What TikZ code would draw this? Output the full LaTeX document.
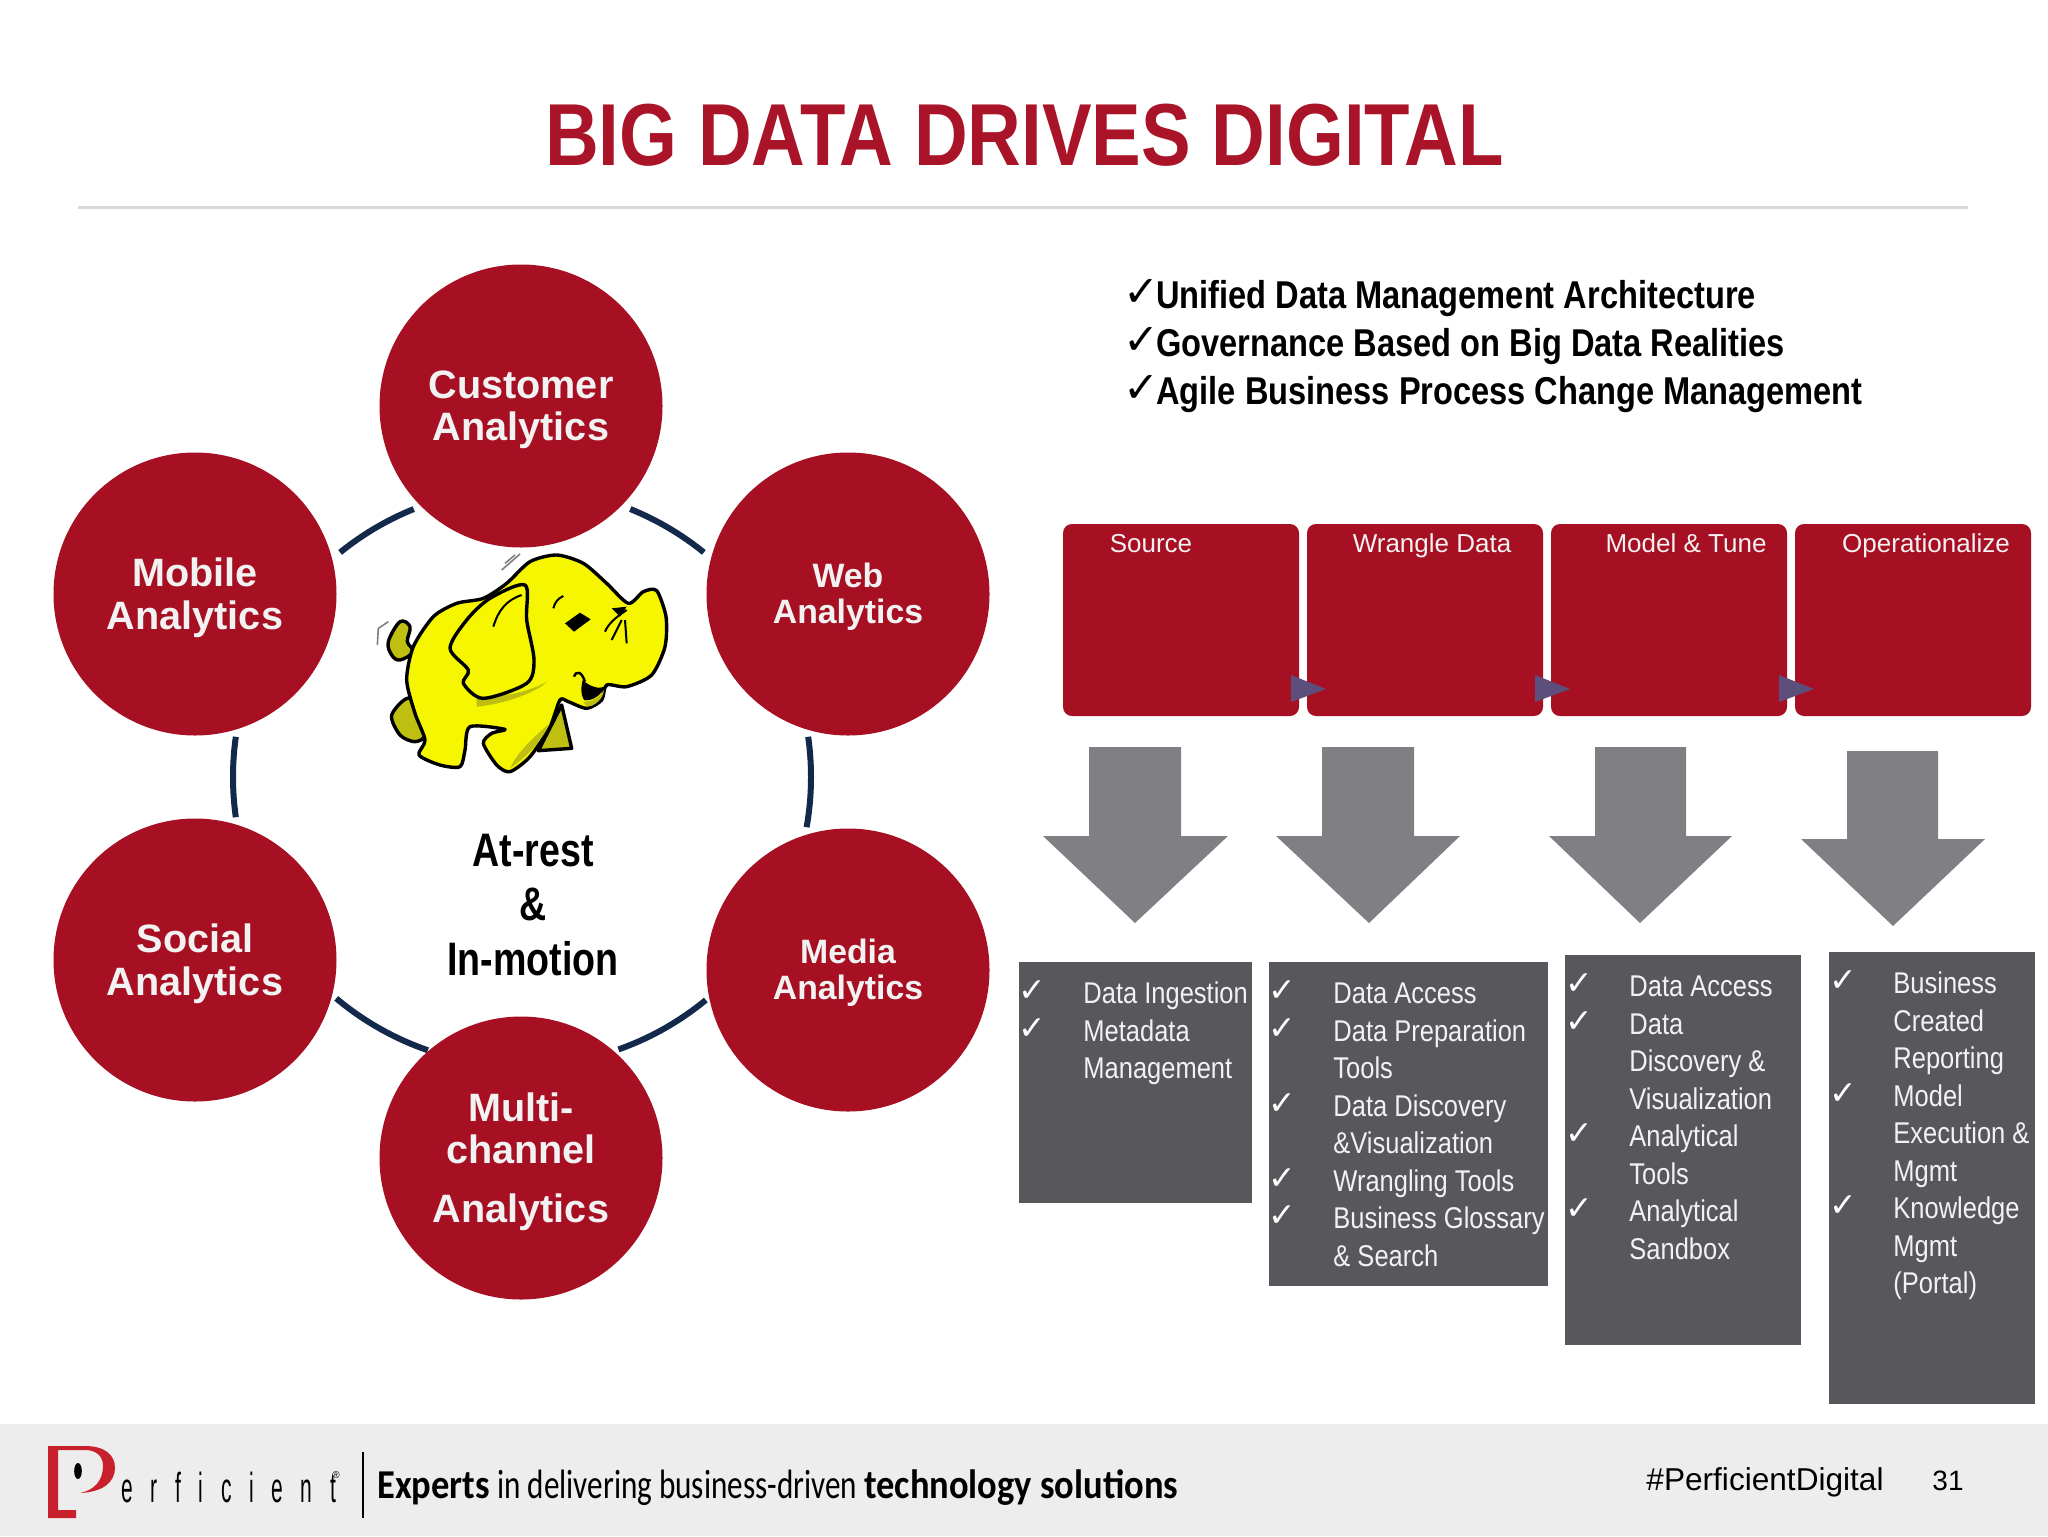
\documentclass[tikz,border=0pt]{standalone}
\usepackage{fontspec}
\setmainfont{Liberation Sans}
\newfontfamily\titlefont[FakeStretch=0.845]{Liberation Sans Bold}
\newfontfamily\boldnarrow[FakeStretch=0.8]{Liberation Sans Bold}
\newfontfamily\benefitfont[FakeStretch=0.84]{Liberation Sans Bold}
\newfontfamily\listfont[FakeStretch=0.85]{Liberation Sans}
\newfontfamily\plainfont{Liberation Sans}
\newfontfamily\boldfont{Liberation Sans Bold}
\newfontfamily\chkfont{DejaVu Sans}
\newfontfamily\footfont[FakeStretch=0.76]{Carlito}
\newfontfamily\footbold[FakeStretch=0.89]{Carlito Bold}
\newfontfamily\logofont[FakeStretch=0.5,LetterSpace=42]{Liberation Sans}
\definecolor{crimson}{HTML}{A70F22}
\definecolor{titlered}{HTML}{A91428}
\definecolor{slatebox}{HTML}{58575C}
\definecolor{arrowgray}{HTML}{807F83}
\definecolor{tri}{HTML}{5D4F7C}
\definecolor{ringblue}{HTML}{12294B}
\definecolor{band}{HTML}{EEEDED}
\definecolor{rule}{HTML}{D9D9D9}
\definecolor{logored}{HTML}{C8202C}
\definecolor{elyellow}{HTML}{F6F600}
\definecolor{elolive}{HTML}{BFBF12}
\tikzset{
  x=0.5pt,y=0.5pt,
  bubble/.style={circle,fill=crimson,draw=none,minimum size=141.5pt,inner sep=0pt},
  bubtext/.style={inner sep=0pt,align=center,text=white!95!black},
  bigbub/.style={bubtext,yshift=-1.8pt,font=\boldfont\fontsize{19.8}{21.2}\selectfont},
  smallbub/.style={bubtext,yshift=-1.3pt,font=\boldfont\fontsize{16.9}{18}\selectfont},
  ringseg/.style={draw=ringblue,line width=3pt},
  phase/.style={rounded corners=4.5pt,fill=crimson,draw=none},
  phlabel/.style={anchor=base,text=white!95!black,font=\plainfont\fontsize{13}{15}\selectfont,inner sep=0pt},
  tritip/.style={fill=tri,draw=none},
  downarrow/.style={fill=arrowgray,draw=none},
  panel/.style={fill=slatebox,draw=none},
  listtext/.style={anchor=north west,inner sep=0pt,align=left,text=white!95!black,font=\listfont\fontsize{15}{18.75}\selectfont},
  chktext/.style={anchor=north west,inner sep=0pt,align=left,text=white,font=\chkfont\fontsize{16.5}{18.75}\selectfont},
  elline/.style={draw=black,line width=1.7pt,line join=round},
}
\begin{document}
\begin{tikzpicture}
\useasboundingbox (0,0) rectangle (2048,-1536);
\fill[white] (0,0) rectangle (2048,-1536);
% title
\node[text=titlered,font=\titlefont\fontsize{44}{46}\selectfont,inner sep=0pt] (title) at (1024.5,-135) {BIG DATA DRIVES DIGITAL};
\draw[rule,line width=1.5pt] (78,-207) -- (1968,-207);
% ring
\coordinate (ring) at (522,-777);
\draw[ringseg] ([shift={(112:289)}]ring) arc (112:129:289);
\draw[ringseg] ([shift={(51:289)}]ring) arc (51:68:289);
\draw[ringseg] ([shift={(-10:289)}]ring) arc (-10:8:289);
\draw[ringseg] ([shift={(-50.5:289)}]ring) arc (-50.5:-70.5:289);
\draw[ringseg] ([shift={(-109:289)}]ring) arc (-109:-130:289);
\draw[ringseg] ([shift={(172:289)}]ring) arc (172:188:289);
% bubbles
\node[bubble] (cust) at (521,-406) {};
\node[bubble] (web) at (848,-594) {};
\node[bubble] (mob) at (195,-594) {};
\node[bubble] (media) at (848,-970) {};
\node[bubble] (soc) at (195,-960) {};
\node[bubble] (multi) at (521,-1158) {};
\node[bigbub] (custlabel) at (cust) {Customer\\Analytics};
\node[smallbub] (weblabel) at (web) {Web\\Analytics};
\node[bigbub] (moblabel) at (mob) {Mobile\\Analytics};
\node[smallbub] (medialabel) at (media) {Media\\Analytics};
\node[bigbub] (soclabel) at (soc) {Social\\Analytics};
\node[bigbub] (multilabel) at (multi) {Multi-\\channel\\[8pt]Analytics};
% elephant
\begin{scope}[shift={(350,-520)},x=0.16667pt,y=-0.16667pt]
\path[elline,fill=elolive] plot[smooth cycle,tension=.5] coordinates {(125,585)(180,535)(225,640)(195,665)(150,645)};
\path[elline,fill=elolive] (635,555) -- (665,685) -- (565,692) -- cycle;
\path[elline,fill=elolive] plot[smooth cycle,tension=.6] coordinates {(115,365)(150,305)(180,320)(172,365)(190,395)(150,420)(125,405)};
\path[elline,fill=elyellow] plot[smooth cycle,tension=.45] coordinates {(620,105)(700,130)(770,190)(835,250)(880,215)(920,212)(948,290)(945,380)(905,465)(830,500)(770,495)(755,540)(710,565)(655,545)(630,540)(600,620)(540,710)(480,755)(440,735)(400,670)(425,640)(465,628)(360,620)(345,690)(330,740)(270,735)(207,705)(225,660)(195,580)(170,480)(190,380)(250,290)(320,250)(400,235)(470,190)(540,125)};
\fill[elolive] (380,535) .. controls (450,530) and (530,520) .. (590,485) .. controls (570,510) and (480,550) .. (380,560) -- cycle;
\fill[elolive] (600,610) .. controls (570,670) and (530,710) .. (480,745) .. controls (500,700) and (550,650) .. (600,610) -- cycle;
\path[elline,fill=elyellow] plot[smooth cycle,tension=.5] coordinates {(300,385)(350,300)(420,235)(525,195)(530,300)(552,420)(530,490)(400,535)(340,490)(355,450)};
\draw[black,line width=1pt] (515,225) .. controls (470,240) and (445,270) .. (430,320);
\draw[black,line width=1pt] (610,265) .. controls (615,245) and (625,235) .. (640,228);
\fill[black] (645,310) -- (690,278) -- (722,298) -- (672,335) -- cycle;
\draw[black,line width=1pt] (830,270) .. controls (800,290) and (775,310) .. (765,335);
\draw[black,line width=1pt] (815,300) -- (785,360);
\draw[black,line width=1pt] (825,300) -- (830,370);
\fill[black] (785,265) -- (830,260) -- (810,290) -- cycle;
\fill[elolive] (700,545) .. controls (730,545) and (750,530) .. (762,510) .. controls (760,535) and (735,560) .. (710,560) -- cycle;
\fill[black] (698,480) .. controls (720,500) and (745,508) .. (765,500) .. controls (755,525) and (725,545) .. (702,540) .. controls (692,525) and (692,500) .. (698,480) -- cycle;
\draw[black,line width=1.2pt] (672,470) .. controls (680,450) and (695,455) .. (705,485);
\draw[gray,line width=.8pt] (455,150) -- (510,102);
\draw[gray,line width=.8pt] (465,130) -- (495,105);
\draw[gray,line width=.8pt] (82,375) -- (85,325) -- (115,305);
\end{scope}
% centre text
\node[font=\boldnarrow\fontsize{23.5}{27.2}\selectfont,align=center,inner sep=0pt] (core) at (533,-905) {At-rest\\\&\\In-motion};
% benefits
\node[anchor=north west,inner sep=0pt,align=left,font=\chkfont\fontsize{21.5}{24}\selectfont] (bchk) at (1123,-272) {\strut ✓\\\strut ✓\\\strut ✓};
\node[anchor=north west,inner sep=0pt,align=left,font=\benefitfont\fontsize{19.4}{24}\selectfont] (btext) at (1156,-274) {\strut Unified Data Management Architecture\\\strut Governance Based on Big Data Realities\\\strut Agile Business Process Change Management};
% phase boxes
\path[phase] (1063,-524) rectangle (1299,-716);
\path[phase] (1307,-524) rectangle (1543,-716);
\path[phase] (1551,-524) rectangle (1787,-716);
\path[phase] (1795,-524) rectangle (2031,-716);
\node[phlabel] (p1) at (1151,-552) {Source};
\node[phlabel] (p2) at (1432,-552) {Wrangle Data};
\node[phlabel] (p3) at (1686,-552) {Model \& Tune};
\node[phlabel] (p4) at (1926,-552) {Operationalize};
\path[tritip] (1291,-675) -- (1326,-689) -- (1291,-702) -- cycle;
\path[tritip] (1535,-675) -- (1570,-689) -- (1535,-702) -- cycle;
\path[tritip] (1779,-675) -- (1814,-689) -- (1779,-702) -- cycle;
% arrows
\path[downarrow] (1089,-747) -- (1181,-747) -- (1181,-836) -- (1228,-836) -- (1135,-923) -- (1043,-836) -- (1089,-836) -- cycle;
\path[downarrow] (1322,-747) -- (1414,-747) -- (1414,-836) -- (1460,-836) -- (1369,-923) -- (1276,-836) -- (1322,-836) -- cycle;
\path[downarrow] (1595,-747) -- (1686,-747) -- (1686,-836) -- (1732,-836) -- (1640,-923) -- (1549,-836) -- (1595,-836) -- cycle;
\path[downarrow] (1847,-751) -- (1938,-751) -- (1938,-839) -- (1985,-839) -- (1893,-926) -- (1801,-839) -- (1847,-839) -- cycle;
% panels
\path[panel] (1019,-962) rectangle (1252,-1203);
\path[panel] (1269,-962) rectangle (1548,-1286);
\path[panel] (1565,-955) rectangle (1801,-1345);
\path[panel] (1829,-952) rectangle (2035,-1404);
\node[chktext] (c1) at (1018,-975) {\strut ✓\\\strut ✓};
\node[listtext] (t1) at (1083,-977) {\strut Data Ingestion\\\strut Metadata\\\strut Management};
\node[chktext] (c2) at (1268,-975) {\strut ✓\\\strut ✓\\\strut\\\strut ✓\\\strut\\\strut ✓\\\strut ✓};
\node[listtext] (t2) at (1333,-977) {\strut Data Access\\\strut Data Preparation\\\strut Tools\\\strut Data Discovery\\\strut \&Visualization\\\strut Wrangling Tools\\\strut Business Glossary\\\strut \& Search};
\node[chktext] (c3) at (1565,-968) {\strut ✓\\\strut ✓\\\strut\\\strut\\\strut ✓\\\strut\\\strut ✓};
\node[listtext] (t3) at (1629,-970) {\strut Data Access\\\strut Data\\\strut Discovery \&\\\strut Visualization\\\strut Analytical\\\strut Tools\\\strut Analytical\\\strut Sandbox};
\node[chktext] (c4) at (1829,-965) {\strut ✓\\\strut\\\strut\\\strut ✓\\\strut\\\strut\\\strut ✓};
\node[listtext] (t4) at (1893,-967) {\strut Business\\\strut Created\\\strut Reporting\\\strut Model\\\strut Execution \&\\\strut Mgmt\\\strut Knowledge\\\strut Mgmt\\\strut (Portal)};
% footer
\fill[band] (0,-1424) rectangle (2048,-1536);
\fill[logored] (48,-1446) -- (85,-1446) .. controls (105,-1446) and (115,-1455) .. (115,-1468) .. controls (115,-1482) and (103,-1492) .. (80,-1493) .. controls (95,-1490) and (103,-1480) .. (103,-1466) .. controls (103,-1455) and (95,-1450) .. (85,-1450) -- (58,-1450) -- (58,-1510) -- (76,-1510) -- (76,-1518) -- (48,-1518) -- cycle;
\fill[black] (78,-1471) ellipse (3.8 and 8);
\node[anchor=base west,inner sep=0pt,font=\logofont\fontsize{21}{22}\selectfont] (logo) at (121,-1502) {erficient};
\node[anchor=base west,inner sep=0pt,font=\plainfont\fontsize{5}{6}\selectfont] (reg) at (332,-1478) {®};
\draw[black,line width=.6pt] (363,-1452) -- (363,-1518);
\node[anchor=base west,inner sep=0pt,font=\footfont\fontsize{20.5}{22}\selectfont] (slogan) at (377,-1498) {{\footbold Experts} in delivering business-driven {\footbold technology solutions}};
\node[inner sep=0pt,font=\plainfont\fontsize{15.8}{17}\selectfont] (tag) at (1765,-1482) {\#PerficientDigital};
\node[inner sep=0pt,font=\plainfont\fontsize{14}{16}\selectfont] (pg) at (1948,-1481) {31};
\end{tikzpicture}
\end{document}
